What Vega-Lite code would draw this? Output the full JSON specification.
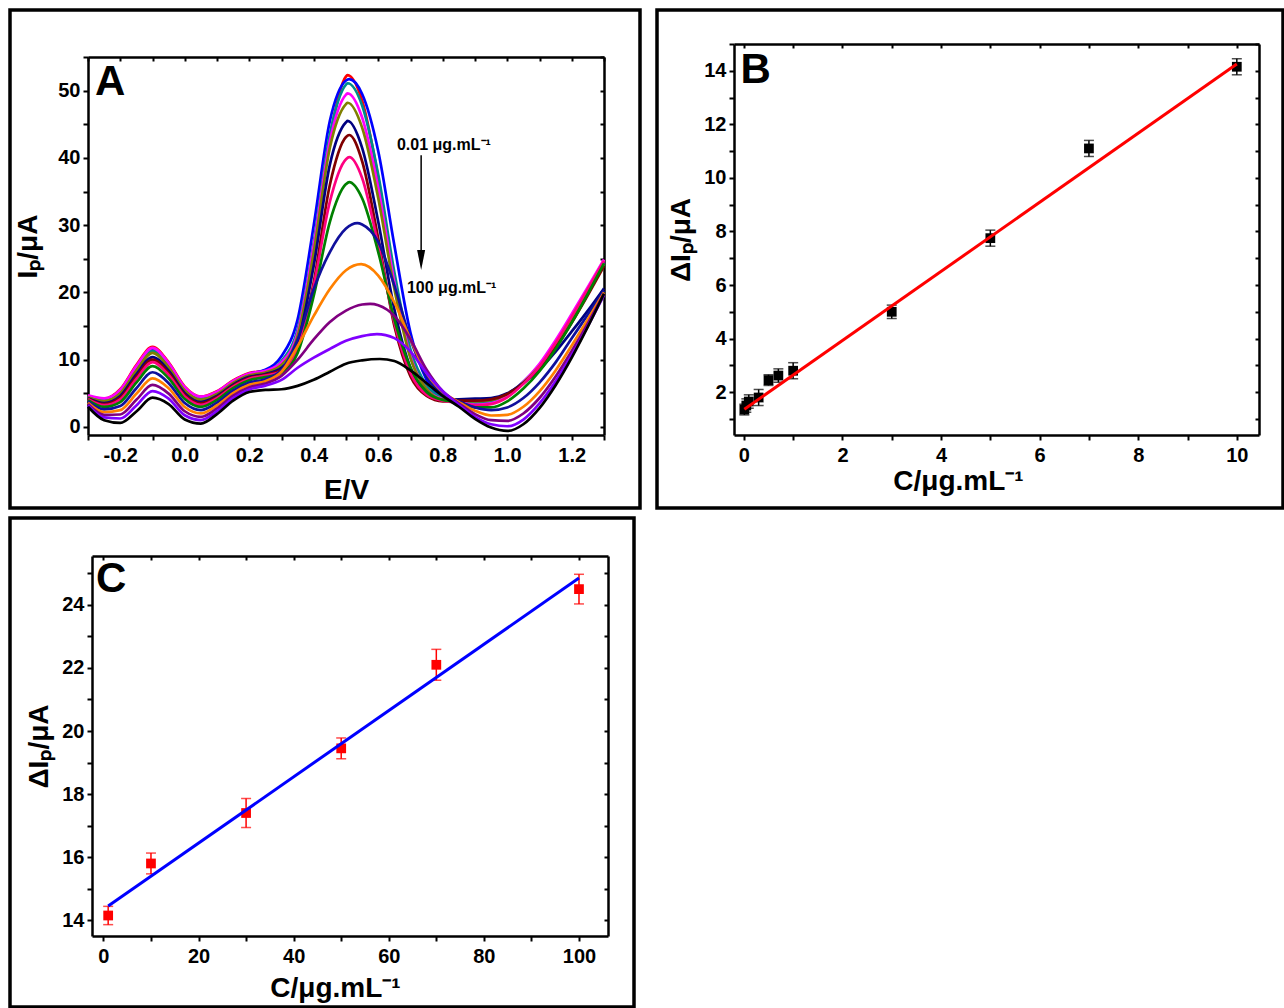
{
"$schema": "https://vega.github.io/schema/vega-lite/v6.json",
"padding": {"left": 8, "top": 8, "right": 0, "bottom": 0},
"background": "white",
"spacing": 6,
"config": {
  "font": "Liberation Sans",
  "view": {"stroke": null},
  "axis": {"grid": false, "domainColor": "black", "domainWidth": 2.5, "tickColor": "black", "tickWidth": 2, "tickSize": 5, "labelFont": "Liberation Sans", "labelFontWeight": "bold", "labelFontSize": 20, "labelColor": "black", "labelPadding": 4, "titleFont": "Liberation Sans", "titleFontWeight": "bold", "titleFontSize": 28, "titleColor": "black", "titlePadding": 4, "labelOverlap": false, "labelFlush": false}
},
"datasets": {
"curves": [
{"s":"c01","x":-0.3,"y":4.6},{"s":"c01","x":-0.25,"y":4.2},{"s":"c01","x":-0.2,"y":5.6},{"s":"c01","x":-0.15,"y":9.2},{"s":"c01","x":-0.1,"y":11.9},{"s":"c01","x":-0.05,"y":9.6},{"s":"c01","x":0,"y":6.0},{"s":"c01","x":0.05,"y":4.5},{"s":"c01","x":0.1,"y":5.3},{"s":"c01","x":0.15,"y":6.9},{"s":"c01","x":0.2,"y":8.0},{"s":"c01","x":0.25,"y":8.4},{"s":"c01","x":0.3,"y":9.5},{"s":"c01","x":0.35,"y":13.5},{"s":"c01","x":0.4,"y":26},{"s":"c01","x":0.45,"y":43},{"s":"c01","x":0.5,"y":52.1},{"s":"c01","x":0.505,"y":52.3},{"s":"c01","x":0.55,"y":48.5},{"s":"c01","x":0.6,"y":37},{"s":"c01","x":0.65,"y":22},{"s":"c01","x":0.7,"y":10.5},{"s":"c01","x":0.75,"y":5.8},{"s":"c01","x":0.8,"y":4.2},{"s":"c01","x":0.85,"y":3.7},{"s":"c01","x":0.9,"y":3.3},{"s":"c01","x":0.95,"y":3.5},{"s":"c01","x":1.0,"y":4.6},{"s":"c01","x":1.05,"y":6.6},{"s":"c01","x":1.1,"y":9.2},{"s":"c01","x":1.15,"y":12.6},{"s":"c01","x":1.2,"y":16.4},{"s":"c01","x":1.25,"y":20.5},{"s":"c01","x":1.3,"y":24.8},
{"s":"c02","x":-0.3,"y":4.54},{"s":"c02","x":-0.25,"y":4.07},{"s":"c02","x":-0.2,"y":5.4},{"s":"c02","x":-0.15,"y":8.92},{"s":"c02","x":-0.1,"y":11.6},{"s":"c02","x":-0.05,"y":9.35},{"s":"c02","x":0,"y":5.8},{"s":"c02","x":0.05,"y":4.34},{"s":"c02","x":0.1,"y":5.16},{"s":"c02","x":0.15,"y":6.78},{"s":"c02","x":0.2,"y":7.89},{"s":"c02","x":0.25,"y":8.5},{"s":"c02","x":0.3,"y":10.5},{"s":"c02","x":0.35,"y":16},{"s":"c02","x":0.4,"y":30},{"s":"c02","x":0.45,"y":45.5},{"s":"c02","x":0.5,"y":51.5},{"s":"c02","x":0.51,"y":51.7},{"s":"c02","x":0.55,"y":49.5},{"s":"c02","x":0.6,"y":41},{"s":"c02","x":0.65,"y":27},{"s":"c02","x":0.7,"y":14},{"s":"c02","x":0.75,"y":7},{"s":"c02","x":0.8,"y":4.5},{"s":"c02","x":0.85,"y":3.9},{"s":"c02","x":0.9,"y":3.6},{"s":"c02","x":0.95,"y":3.8},{"s":"c02","x":1.0,"y":4.8},{"s":"c02","x":1.05,"y":6.7},{"s":"c02","x":1.1,"y":9.2},{"s":"c02","x":1.15,"y":12.4},{"s":"c02","x":1.2,"y":16.1},{"s":"c02","x":1.25,"y":20.2},{"s":"c02","x":1.3,"y":24.5},
{"s":"c03","x":-0.3,"y":4.47},{"s":"c03","x":-0.25,"y":3.94},{"s":"c03","x":-0.2,"y":5.2},{"s":"c03","x":-0.15,"y":8.65},{"s":"c03","x":-0.1,"y":11.3},{"s":"c03","x":-0.05,"y":9.1},{"s":"c03","x":0,"y":5.61},{"s":"c03","x":0.05,"y":4.18},{"s":"c03","x":0.1,"y":5.03},{"s":"c03","x":0.15,"y":6.66},{"s":"c03","x":0.2,"y":7.78},{"s":"c03","x":0.25,"y":8.2},{"s":"c03","x":0.3,"y":9.8},{"s":"c03","x":0.35,"y":14.5},{"s":"c03","x":0.4,"y":27.5},{"s":"c03","x":0.45,"y":43.5},{"s":"c03","x":0.5,"y":50.9},{"s":"c03","x":0.505,"y":51.1},{"s":"c03","x":0.55,"y":47.8},{"s":"c03","x":0.6,"y":37.5},{"s":"c03","x":0.65,"y":23},{"s":"c03","x":0.7,"y":11.5},{"s":"c03","x":0.75,"y":6.2},{"s":"c03","x":0.8,"y":4.3},{"s":"c03","x":0.85,"y":3.8},{"s":"c03","x":0.9,"y":3.5},{"s":"c03","x":0.95,"y":3.7},{"s":"c03","x":1.0,"y":4.7},{"s":"c03","x":1.05,"y":6.6},{"s":"c03","x":1.1,"y":9.1},{"s":"c03","x":1.15,"y":12.3},{"s":"c03","x":1.2,"y":16.0},{"s":"c03","x":1.25,"y":20.1},{"s":"c03","x":1.3,"y":24.4},
{"s":"c04","x":-0.3,"y":4.7},{"s":"c04","x":-0.25,"y":4.25},{"s":"c04","x":-0.2,"y":5.5},{"s":"c04","x":-0.15,"y":9.05},{"s":"c04","x":-0.1,"y":11.75},{"s":"c04","x":-0.05,"y":9.5},{"s":"c04","x":0,"y":5.9},{"s":"c04","x":0.05,"y":4.5},{"s":"c04","x":0.1,"y":5.25},{"s":"c04","x":0.15,"y":6.85},{"s":"c04","x":0.2,"y":7.95},{"s":"c04","x":0.25,"y":8.35},{"s":"c04","x":0.3,"y":9.6},{"s":"c04","x":0.35,"y":14},{"s":"c04","x":0.4,"y":27},{"s":"c04","x":0.45,"y":42.5},{"s":"c04","x":0.5,"y":49.4},{"s":"c04","x":0.505,"y":49.6},{"s":"c04","x":0.55,"y":46},{"s":"c04","x":0.6,"y":35.5},{"s":"c04","x":0.65,"y":21.5},{"s":"c04","x":0.7,"y":10.5},{"s":"c04","x":0.75,"y":5.6},{"s":"c04","x":0.8,"y":4.1},{"s":"c04","x":0.85,"y":3.7},{"s":"c04","x":0.9,"y":3.3},{"s":"c04","x":0.95,"y":3.5},{"s":"c04","x":1.0,"y":4.6},{"s":"c04","x":1.05,"y":6.7},{"s":"c04","x":1.1,"y":9.4},{"s":"c04","x":1.15,"y":12.9},{"s":"c04","x":1.2,"y":16.8},{"s":"c04","x":1.25,"y":20.8},{"s":"c04","x":1.3,"y":24.9},
{"s":"c05","x":-0.3,"y":4.41},{"s":"c05","x":-0.25,"y":3.82},{"s":"c05","x":-0.2,"y":5.0},{"s":"c05","x":-0.15,"y":8.37},{"s":"c05","x":-0.1,"y":11.0},{"s":"c05","x":-0.05,"y":8.86},{"s":"c05","x":0,"y":5.41},{"s":"c05","x":0.05,"y":4.02},{"s":"c05","x":0.1,"y":4.89},{"s":"c05","x":0.15,"y":6.54},{"s":"c05","x":0.2,"y":7.66},{"s":"c05","x":0.25,"y":8.09},{"s":"c05","x":0.3,"y":9.2},{"s":"c05","x":0.35,"y":13.5},{"s":"c05","x":0.4,"y":26},{"s":"c05","x":0.45,"y":41.5},{"s":"c05","x":0.5,"y":48},{"s":"c05","x":0.505,"y":48.2},{"s":"c05","x":0.55,"y":44.5},{"s":"c05","x":0.6,"y":34},{"s":"c05","x":0.65,"y":20.5},{"s":"c05","x":0.7,"y":10.2},{"s":"c05","x":0.75,"y":5.6},{"s":"c05","x":0.8,"y":4.1},{"s":"c05","x":0.85,"y":4.0},{"s":"c05","x":0.9,"y":3.8},{"s":"c05","x":0.95,"y":4.0},{"s":"c05","x":1.0,"y":4.9},{"s":"c05","x":1.05,"y":6.6},{"s":"c05","x":1.1,"y":9.0},{"s":"c05","x":1.15,"y":12.1},{"s":"c05","x":1.2,"y":15.8},{"s":"c05","x":1.25,"y":19.9},{"s":"c05","x":1.3,"y":24.2},
{"s":"c06","x":-0.3,"y":4.28},{"s":"c06","x":-0.25,"y":3.56},{"s":"c06","x":-0.2,"y":4.6},{"s":"c06","x":-0.15,"y":7.82},{"s":"c06","x":-0.1,"y":10.39},{"s":"c06","x":-0.05,"y":8.36},{"s":"c06","x":0,"y":5.02},{"s":"c06","x":0.05,"y":3.7},{"s":"c06","x":0.1,"y":4.62},{"s":"c06","x":0.15,"y":6.3},{"s":"c06","x":0.2,"y":7.44},{"s":"c06","x":0.25,"y":7.88},{"s":"c06","x":0.3,"y":8.8},{"s":"c06","x":0.35,"y":12.5},{"s":"c06","x":0.4,"y":24},{"s":"c06","x":0.45,"y":39},{"s":"c06","x":0.5,"y":45.3},{"s":"c06","x":0.505,"y":45.5},{"s":"c06","x":0.55,"y":41.5},{"s":"c06","x":0.6,"y":30.5},{"s":"c06","x":0.65,"y":17.5},{"s":"c06","x":0.7,"y":8.8},{"s":"c06","x":0.75,"y":5.2},{"s":"c06","x":0.8,"y":4.0},{"s":"c06","x":0.85,"y":4.1},{"s":"c06","x":0.9,"y":4.2},{"s":"c06","x":0.95,"y":4.3},{"s":"c06","x":1.0,"y":5.0},{"s":"c06","x":1.05,"y":6.5},{"s":"c06","x":1.1,"y":8.5},{"s":"c06","x":1.15,"y":11.2},{"s":"c06","x":1.2,"y":14.2},{"s":"c06","x":1.25,"y":17.3},{"s":"c06","x":1.3,"y":20.6},
{"s":"c07","x":-0.3,"y":4.2},{"s":"c07","x":-0.25,"y":3.4},{"s":"c07","x":-0.2,"y":4.35},{"s":"c07","x":-0.15,"y":7.48},{"s":"c07","x":-0.1,"y":10.01},{"s":"c07","x":-0.05,"y":8.05},{"s":"c07","x":0,"y":4.78},{"s":"c07","x":0.05,"y":3.5},{"s":"c07","x":0.1,"y":4.45},{"s":"c07","x":0.15,"y":6.15},{"s":"c07","x":0.2,"y":7.3},{"s":"c07","x":0.25,"y":7.75},{"s":"c07","x":0.3,"y":8.5},{"s":"c07","x":0.35,"y":11.5},{"s":"c07","x":0.4,"y":21.5},{"s":"c07","x":0.45,"y":36},{"s":"c07","x":0.5,"y":43.1},{"s":"c07","x":0.51,"y":43.4},{"s":"c07","x":0.55,"y":39.5},{"s":"c07","x":0.6,"y":28},{"s":"c07","x":0.65,"y":15},{"s":"c07","x":0.7,"y":7.5},{"s":"c07","x":0.75,"y":4.6},{"s":"c07","x":0.8,"y":3.8},{"s":"c07","x":0.85,"y":3.9},{"s":"c07","x":0.9,"y":3.9},{"s":"c07","x":0.95,"y":4.1},{"s":"c07","x":1.0,"y":4.9},{"s":"c07","x":1.05,"y":6.5},{"s":"c07","x":1.1,"y":8.8},{"s":"c07","x":1.15,"y":11.8},{"s":"c07","x":1.2,"y":15.5},{"s":"c07","x":1.25,"y":19.6},{"s":"c07","x":1.3,"y":23.9},
{"s":"c08","x":-0.3,"y":4.12},{"s":"c08","x":-0.25,"y":3.24},{"s":"c08","x":-0.2,"y":4.1},{"s":"c08","x":-0.15,"y":7.13},{"s":"c08","x":-0.1,"y":9.64},{"s":"c08","x":-0.05,"y":7.74},{"s":"c08","x":0,"y":4.53},{"s":"c08","x":0.05,"y":3.3},{"s":"c08","x":0.1,"y":4.28},{"s":"c08","x":0.15,"y":6.0},{"s":"c08","x":0.2,"y":7.16},{"s":"c08","x":0.25,"y":7.62},{"s":"c08","x":0.3,"y":8.3},{"s":"c08","x":0.35,"y":11.5},{"s":"c08","x":0.4,"y":21},{"s":"c08","x":0.45,"y":33.5},{"s":"c08","x":0.5,"y":39.8},{"s":"c08","x":0.51,"y":40.1},{"s":"c08","x":0.55,"y":37},{"s":"c08","x":0.6,"y":27},{"s":"c08","x":0.65,"y":15.5},{"s":"c08","x":0.7,"y":8},{"s":"c08","x":0.75,"y":4.8},{"s":"c08","x":0.8,"y":3.9},{"s":"c08","x":0.85,"y":3.6},{"s":"c08","x":0.9,"y":3.2},{"s":"c08","x":0.95,"y":3.4},{"s":"c08","x":1.0,"y":4.4},{"s":"c08","x":1.05,"y":6.4},{"s":"c08","x":1.1,"y":9.0},{"s":"c08","x":1.15,"y":12.5},{"s":"c08","x":1.2,"y":16.4},{"s":"c08","x":1.25,"y":20.5},{"s":"c08","x":1.3,"y":24.7},
{"s":"c09","x":-0.3,"y":3.99},{"s":"c09","x":-0.25,"y":2.98},{"s":"c09","x":-0.2,"y":3.7},{"s":"c09","x":-0.15,"y":6.58},{"s":"c09","x":-0.1,"y":9.03},{"s":"c09","x":-0.05,"y":7.24},{"s":"c09","x":0,"y":4.14},{"s":"c09","x":0.05,"y":2.98},{"s":"c09","x":0.1,"y":4.01},{"s":"c09","x":0.15,"y":5.76},{"s":"c09","x":0.2,"y":6.94},{"s":"c09","x":0.25,"y":7.41},{"s":"c09","x":0.3,"y":8.0},{"s":"c09","x":0.35,"y":11},{"s":"c09","x":0.4,"y":19.5},{"s":"c09","x":0.45,"y":30.5},{"s":"c09","x":0.5,"y":36.1},{"s":"c09","x":0.51,"y":36.4},{"s":"c09","x":0.55,"y":34},{"s":"c09","x":0.6,"y":26},{"s":"c09","x":0.65,"y":16},{"s":"c09","x":0.7,"y":8.8},{"s":"c09","x":0.75,"y":5.2},{"s":"c09","x":0.8,"y":4.0},{"s":"c09","x":0.85,"y":3.7},{"s":"c09","x":0.9,"y":2.9},{"s":"c09","x":0.95,"y":2.9},{"s":"c09","x":1.0,"y":3.8},{"s":"c09","x":1.05,"y":5.7},{"s":"c09","x":1.1,"y":8.3},{"s":"c09","x":1.15,"y":11.6},{"s":"c09","x":1.2,"y":15.5},{"s":"c09","x":1.25,"y":19.8},{"s":"c09","x":1.3,"y":24.3},
{"s":"c10","x":-0.3,"y":3.8},{"s":"c10","x":-0.25,"y":2.6},{"s":"c10","x":-0.2,"y":3.1},{"s":"c10","x":-0.15,"y":5.75},{"s":"c10","x":-0.1,"y":8.13},{"s":"c10","x":-0.05,"y":6.5},{"s":"c10","x":0,"y":3.55},{"s":"c10","x":0.05,"y":2.5},{"s":"c10","x":0.1,"y":3.6},{"s":"c10","x":0.15,"y":5.4},{"s":"c10","x":0.2,"y":6.6},{"s":"c10","x":0.25,"y":7.1},{"s":"c10","x":0.3,"y":8.5},{"s":"c10","x":0.35,"y":13},{"s":"c10","x":0.4,"y":20.5},{"s":"c10","x":0.45,"y":26},{"s":"c10","x":0.5,"y":29.5},{"s":"c10","x":0.535,"y":30.3},{"s":"c10","x":0.55,"y":30.1},{"s":"c10","x":0.6,"y":27.5},{"s":"c10","x":0.65,"y":21},{"s":"c10","x":0.7,"y":13},{"s":"c10","x":0.75,"y":7.5},{"s":"c10","x":0.8,"y":4.8},{"s":"c10","x":0.85,"y":3.8},{"s":"c10","x":0.9,"y":2.9},{"s":"c10","x":0.95,"y":2.5},{"s":"c10","x":1.0,"y":2.9},{"s":"c10","x":1.05,"y":4.3},{"s":"c10","x":1.1,"y":6.6},{"s":"c10","x":1.15,"y":9.6},{"s":"c10","x":1.2,"y":13.2},{"s":"c10","x":1.25,"y":16.7},{"s":"c10","x":1.3,"y":20.3},
{"s":"c11","x":-0.3,"y":3.61},{"s":"c11","x":-0.25,"y":2.22},{"s":"c11","x":-0.2,"y":2.5},{"s":"c11","x":-0.15,"y":4.92},{"s":"c11","x":-0.1,"y":7.22},{"s":"c11","x":-0.05,"y":5.76},{"s":"c11","x":0,"y":2.96},{"s":"c11","x":0.05,"y":2.02},{"s":"c11","x":0.1,"y":3.19},{"s":"c11","x":0.15,"y":5.04},{"s":"c11","x":0.2,"y":6.26},{"s":"c11","x":0.25,"y":6.79},{"s":"c11","x":0.3,"y":8.2},{"s":"c11","x":0.35,"y":12},{"s":"c11","x":0.4,"y":16.5},{"s":"c11","x":0.45,"y":20.5},{"s":"c11","x":0.5,"y":23.3},{"s":"c11","x":0.547,"y":24.2},{"s":"c11","x":0.6,"y":22.5},{"s":"c11","x":0.65,"y":18.5},{"s":"c11","x":0.7,"y":13},{"s":"c11","x":0.75,"y":8},{"s":"c11","x":0.8,"y":5.2},{"s":"c11","x":0.85,"y":3.7},{"s":"c11","x":0.9,"y":2.4},{"s":"c11","x":0.95,"y":1.7},{"s":"c11","x":1.0,"y":1.8},{"s":"c11","x":1.05,"y":3.0},{"s":"c11","x":1.1,"y":5.3},{"s":"c11","x":1.15,"y":8.4},{"s":"c11","x":1.2,"y":12.1},{"s":"c11","x":1.25,"y":16.0},{"s":"c11","x":1.3,"y":20.0},
{"s":"c12","x":-0.3,"y":3.4},{"s":"c12","x":-0.25,"y":1.8},{"s":"c12","x":-0.2,"y":1.85},{"s":"c12","x":-0.15,"y":4.03},{"s":"c12","x":-0.1,"y":6.24},{"s":"c12","x":-0.05,"y":4.95},{"s":"c12","x":0,"y":2.33},{"s":"c12","x":0.05,"y":1.5},{"s":"c12","x":0.1,"y":2.75},{"s":"c12","x":0.15,"y":4.65},{"s":"c12","x":0.2,"y":5.9},{"s":"c12","x":0.25,"y":6.45},{"s":"c12","x":0.3,"y":7.6},{"s":"c12","x":0.35,"y":10},{"s":"c12","x":0.4,"y":13},{"s":"c12","x":0.45,"y":15.6},{"s":"c12","x":0.5,"y":17.3},{"s":"c12","x":0.55,"y":18.2},{"s":"c12","x":0.575,"y":18.3},{"s":"c12","x":0.6,"y":18.1},{"s":"c12","x":0.65,"y":16.5},{"s":"c12","x":0.7,"y":13},{"s":"c12","x":0.75,"y":8.5},{"s":"c12","x":0.8,"y":5.3},{"s":"c12","x":0.85,"y":3.5},{"s":"c12","x":0.9,"y":1.9},{"s":"c12","x":0.95,"y":1.0},{"s":"c12","x":1.0,"y":0.9},{"s":"c12","x":1.05,"y":2.0},{"s":"c12","x":1.1,"y":4.3},{"s":"c12","x":1.15,"y":7.5},{"s":"c12","x":1.2,"y":11.3},{"s":"c12","x":1.25,"y":15.4},{"s":"c12","x":1.3,"y":19.8},
{"s":"c13","x":-0.3,"y":3.21},{"s":"c13","x":-0.25,"y":1.42},{"s":"c13","x":-0.2,"y":1.25},{"s":"c13","x":-0.15,"y":3.2},{"s":"c13","x":-0.1,"y":5.33},{"s":"c13","x":-0.05,"y":4.21},{"s":"c13","x":0,"y":1.74},{"s":"c13","x":0.05,"y":1.02},{"s":"c13","x":0.1,"y":2.34},{"s":"c13","x":0.15,"y":4.29},{"s":"c13","x":0.2,"y":5.56},{"s":"c13","x":0.25,"y":6.14},{"s":"c13","x":0.3,"y":7.0},{"s":"c13","x":0.35,"y":8.8},{"s":"c13","x":0.4,"y":10.3},{"s":"c13","x":0.45,"y":11.6},{"s":"c13","x":0.5,"y":12.8},{"s":"c13","x":0.55,"y":13.5},{"s":"c13","x":0.596,"y":13.8},{"s":"c13","x":0.65,"y":13.2},{"s":"c13","x":0.7,"y":11.2},{"s":"c13","x":0.75,"y":8},{"s":"c13","x":0.8,"y":5.3},{"s":"c13","x":0.85,"y":3.3},{"s":"c13","x":0.9,"y":1.5},{"s":"c13","x":0.95,"y":0.4},{"s":"c13","x":1.0,"y":0.1},{"s":"c13","x":1.05,"y":1.1},{"s":"c13","x":1.1,"y":3.5},{"s":"c13","x":1.15,"y":6.8},{"s":"c13","x":1.2,"y":10.7},{"s":"c13","x":1.25,"y":15.0},{"s":"c13","x":1.3,"y":19.6},
{"s":"c14","x":-0.3,"y":3.0},{"s":"c14","x":-0.25,"y":1.0},{"s":"c14","x":-0.2,"y":0.6},{"s":"c14","x":-0.15,"y":2.3},{"s":"c14","x":-0.1,"y":4.35},{"s":"c14","x":-0.05,"y":3.4},{"s":"c14","x":0,"y":1.1},{"s":"c14","x":0.05,"y":0.5},{"s":"c14","x":0.1,"y":1.9},{"s":"c14","x":0.15,"y":3.9},{"s":"c14","x":0.2,"y":5.2},{"s":"c14","x":0.25,"y":5.5},{"s":"c14","x":0.3,"y":5.6},{"s":"c14","x":0.35,"y":6.1},{"s":"c14","x":0.4,"y":7.0},{"s":"c14","x":0.45,"y":8.2},{"s":"c14","x":0.5,"y":9.4},{"s":"c14","x":0.55,"y":9.9},{"s":"c14","x":0.605,"y":10.1},{"s":"c14","x":0.65,"y":9.8},{"s":"c14","x":0.7,"y":8.4},{"s":"c14","x":0.75,"y":6.5},{"s":"c14","x":0.8,"y":4.6},{"s":"c14","x":0.85,"y":3.0},{"s":"c14","x":0.9,"y":1.2},{"s":"c14","x":0.95,"y":-0.1},{"s":"c14","x":1.0,"y":-0.6},{"s":"c14","x":1.05,"y":0.4},{"s":"c14","x":1.1,"y":2.8},{"s":"c14","x":1.15,"y":6.2},{"s":"c14","x":1.2,"y":10.3},{"s":"c14","x":1.25,"y":14.9},{"s":"c14","x":1.3,"y":19.8}
],
"ptsB": [
{"x":0.01,"y":1.35,"e":0.2},{"x":0.05,"y":1.5,"e":0.25},{"x":0.1,"y":1.65,"e":0.25},{"x":0.3,"y":1.8,"e":0.3},{"x":0.5,"y":2.45,"e":0.2},{"x":0.7,"y":2.62,"e":0.25},{"x":1,"y":2.8,"e":0.3},{"x":3,"y":5.0,"e":0.25},{"x":5,"y":7.75,"e":0.3},{"x":7,"y":11.1,"e":0.3},{"x":10,"y":14.15,"e":0.3}
],
"fitB": [{"x":0.01,"y":1.36},{"x":10,"y":14.25}],
"ptsC": [
{"x":1,"y":14.15,"e":0.29},{"x":10,"y":15.8,"e":0.33},{"x":30,"y":17.4,"e":0.46},{"x":50,"y":19.45,"e":0.33},{"x":70,"y":22.1,"e":0.49},{"x":100,"y":24.5,"e":0.47}
],
"fitC": [{"x":1,"y":14.45},{"x":100,"y":24.85}]
},
"vconcat": [
{
"hconcat": [
{
"width": 630, "height": 498,
"view": {"stroke": "black", "strokeWidth": 3.5, "fill": "white"},
"layer": [
{
"data": {"name": "curves"},
"mark": {"type": "line", "interpolate": "monotone", "strokeWidth": 2.7},
"encoding": {
"x": {"field": "x", "type": "quantitative", "scale": {"domain": [-0.3, 1.3], "range": [78, 594], "nice": false, "zero": false},
  "axis": {"orient": "bottom", "offset": -73, "values": [-0.3,-0.2,-0.1,0,0.1,0.2,0.3,0.4,0.5,0.6,0.7,0.8,0.9,1.0,1.1,1.2,1.3], "labelExpr": "round(datum.value*10) % 2 == 0 ? (datum.value < -0.01 ? '-' : '') + format(abs(datum.value), '.1f') : ''", "title": "E/V", "labelPadding": 5, "titlePadding": 11}},
"y": {"field": "y", "type": "quantitative", "scale": {"domain": [-1.2, 55], "range": [425, 47], "nice": false, "zero": false},
  "axis": {"orient": "left", "offset": -78, "values": [0,5,10,15,20,25,30,35,40,45,50,55], "labelExpr": "datum.value % 10 == 0 ? format(datum.value, 'd') : ''", "title": "Iₚ/μA", "labelPadding": 3, "titlePadding": 15}},
"color": {"field": "s", "type": "nominal", "legend": null, "scale": {"domain": ["c01","c02","c03","c04","c05","c06","c07","c08","c09","c10","c11","c12","c13","c14"], "range": ["#ff0000","#0000ff","#008b8b","#ff00ff","#808000","#000080","#800000","#ff0080","#008000","#10109c","#ff8000","#800080","#8000ff","#000000"]}}
}
},
{
"data": {"name": "curves"},
"mark": {"type": "point", "opacity": 0},
"encoding": {
"x": {"field": "x", "type": "quantitative", "axis": {"orient": "top", "offset": -47, "values": [-0.3,-0.2,-0.1,0,0.1,0.2,0.3,0.4,0.5,0.6,0.7,0.8,0.9,1.0,1.1,1.2,1.3], "labels": false, "title": null, "tickSize": -4}},
"y": {"field": "y", "type": "quantitative", "axis": {"orient": "right", "offset": -36, "values": [0,5,10,15,20,25,30,35,40,45,50,55], "labels": false, "title": null, "tickSize": -4}}
}
},
{
"data": {"values": [{}]},
"mark": {"type": "text", "text": "A", "font": "Liberation Sans", "fontSize": 42, "fontWeight": "bold", "align": "left", "baseline": "middle", "color": "black"},
"encoding": {"x": {"datum": -0.278, "type": "quantitative", "axis": null}, "y": {"datum": 51.3, "type": "quantitative", "axis": null}}
},
{
"data": {"values": [{}]},
"mark": {"type": "text", "text": "0.01 μg.mL⁻¹", "font": "Liberation Sans", "fontSize": 16, "fontWeight": "bold", "align": "left", "baseline": "middle", "color": "black"},
"encoding": {"x": {"datum": 0.658, "type": "quantitative", "axis": null}, "y": {"datum": 41.9, "type": "quantitative", "axis": null}}
},
{
"data": {"values": [{}]},
"mark": {"type": "text", "text": "100 μg.mL⁻¹", "font": "Liberation Sans", "fontSize": 16, "fontWeight": "bold", "align": "left", "baseline": "middle", "color": "black"},
"encoding": {"x": {"datum": 0.689, "type": "quantitative", "axis": null}, "y": {"datum": 20.66, "type": "quantitative", "axis": null}}
},
{
"data": {"values": [{}]},
"mark": {"type": "rule", "color": "black", "strokeWidth": 1.5},
"encoding": {"x": {"datum": 0.733, "type": "quantitative", "axis": null}, "y": {"datum": 40.4, "type": "quantitative", "axis": null}, "y2": {"datum": 26.0}}
},
{
"data": {"values": [{}]},
"mark": {"type": "point", "shape": "M-0.4,-1L0.4,-1L0,1Z", "size": 400, "filled": true, "color": "black", "opacity": 1},
"encoding": {"x": {"datum": 0.733, "type": "quantitative", "axis": null}, "y": {"datum": 24.8, "type": "quantitative", "axis": null}}
}
],
"resolve": {"axis": {"x": "independent", "y": "independent"}}
},
{
"width": 626, "height": 498,
"view": {"stroke": "black", "strokeWidth": 3.5, "fill": "white"},
"layer": [
{
"data": {"name": "ptsB"},
"mark": {"type": "errorbar", "color": "black", "thickness": 1.5, "ticks": {"size": 10, "thickness": 1.5, "color": "black"}},
"encoding": {
"x": {"field": "x", "type": "quantitative", "scale": {"domain": [-0.2, 10.45], "range": [77, 602], "nice": false, "zero": false}, "axis": null},
"y": {"field": "y", "type": "quantitative", "scale": {"domain": [0.4, 15], "range": [425, 34], "nice": false, "zero": false}, "axis": null},
"yError": {"field": "e"}
}
},
{
"data": {"name": "ptsB"},
"mark": {"type": "point", "shape": "square", "filled": true, "size": 95, "color": "black", "opacity": 1},
"encoding": {
"x": {"field": "x", "type": "quantitative", "axis": {"orient": "top", "offset": -34, "values": [0,1,2,3,4,5,6,7,8,9,10], "labels": false, "title": null, "tickSize": -4}},
"y": {"field": "y", "type": "quantitative", "axis": {"orient": "right", "offset": -24, "values": [1,2,3,4,5,6,7,8,9,10,11,12,13,14,15], "labels": false, "title": null, "tickSize": -4}}
}
},
{
"data": {"name": "fitB"},
"mark": {"type": "line", "color": "#ff0000", "strokeWidth": 3},
"encoding": {
"x": {"field": "x", "type": "quantitative", "axis": {"orient": "bottom", "offset": -73, "values": [0,1,2,3,4,5,6,7,8,9,10], "labelExpr": "datum.value % 2 == 0 ? datum.label : ''", "title": "C/μg.mL⁻¹", "titleX": 301, "labelPadding": 5, "titlePadding": 2}},
"y": {"field": "y", "type": "quantitative", "axis": {"orient": "left", "offset": -77, "values": [1,2,3,4,5,6,7,8,9,10,11,12,13,14,15], "labelExpr": "datum.value % 2 == 0 ? datum.label : ''", "title": "ΔIₚ/μA", "labelPadding": 3, "titlePadding": 8}}
}
},
{
"data": {"values": [{}]},
"mark": {"type": "text", "text": "B", "font": "Liberation Sans", "fontSize": 42, "fontWeight": "bold", "align": "left", "baseline": "middle", "color": "black"},
"encoding": {"x": {"datum": -0.07, "type": "quantitative", "axis": null}, "y": {"datum": 14.03, "type": "quantitative", "axis": null}}
}
],
"resolve": {"axis": {"x": "independent", "y": "independent"}}
}
],
"spacing": 13
},
{
"width": 624, "height": 489,
"view": {"stroke": "black", "strokeWidth": 3.5, "fill": "white"},
"layer": [
{
"data": {"name": "ptsC"},
"mark": {"type": "errorbar", "color": "#ff0000", "thickness": 1.5, "ticks": {"size": 10, "thickness": 1.5, "color": "#ff0000"}},
"encoding": {
"x": {"field": "x", "type": "quantitative", "scale": {"domain": [-2.4, 106.1], "range": [82, 598], "nice": false, "zero": false}, "axis": null},
"y": {"field": "y", "type": "quantitative", "scale": {"domain": [13.5, 25.55], "range": [418, 38], "nice": false, "zero": false}, "axis": null},
"yError": {"field": "e"}
}
},
{
"data": {"name": "ptsC"},
"mark": {"type": "point", "shape": "square", "filled": true, "size": 95, "color": "#ff0000", "opacity": 1},
"encoding": {
"x": {"field": "x", "type": "quantitative", "axis": {"orient": "top", "offset": -38, "values": [0,10,20,30,40,50,60,70,80,90,100], "labels": false, "title": null, "tickSize": -4}},
"y": {"field": "y", "type": "quantitative", "axis": {"orient": "right", "offset": -26, "values": [14,15,16,17,18,19,20,21,22,23,24,25], "labels": false, "title": null, "tickSize": -4}}
}
},
{
"data": {"name": "fitC"},
"mark": {"type": "line", "color": "#0000ff", "strokeWidth": 3},
"encoding": {
"x": {"field": "x", "type": "quantitative", "axis": {"orient": "bottom", "offset": -71, "values": [0,10,20,30,40,50,60,70,80,90,100], "labelExpr": "datum.value % 20 == 0 ? datum.label : ''", "title": "C/μg.mL⁻¹", "titleX": 325, "labelPadding": 5, "titlePadding": 8}},
"y": {"field": "y", "type": "quantitative", "axis": {"orient": "left", "offset": -82, "values": [14,15,16,17,18,19,20,21,22,23,24,25], "labelExpr": "datum.value % 2 == 0 ? datum.label : ''", "title": "ΔIₚ/μA", "labelPadding": 3, "titlePadding": 8}}
}
},
{
"data": {"values": [{}]},
"mark": {"type": "text", "text": "C", "font": "Liberation Sans", "fontSize": 42, "fontWeight": "bold", "align": "left", "baseline": "middle", "color": "black"},
"encoding": {"x": {"datum": -1.56, "type": "quantitative", "axis": null}, "y": {"datum": 24.82, "type": "quantitative", "axis": null}}
}
],
"resolve": {"axis": {"x": "independent", "y": "independent"}}
}
]
}
